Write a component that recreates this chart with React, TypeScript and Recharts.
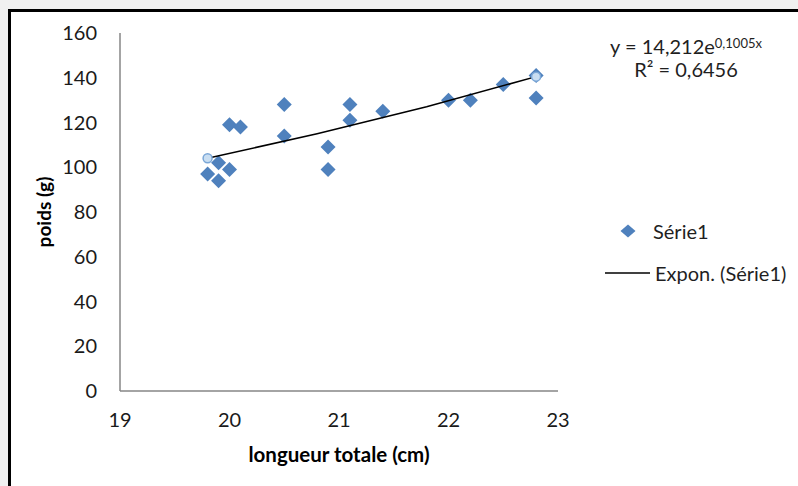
import React from "react";
import { ScatterChart, Scatter, XAxis, YAxis, Legend } from "recharts";

// longueur totale (cm) / poids (g)
const longueur = [19.8, 19.9, 19.9, 20.0, 20.0, 20.1, 20.5, 20.5, 20.9, 20.9, 21.1, 21.1, 21.4, 22.0, 22.2, 22.5, 22.8, 22.8];
const poids = [97, 94, 102, 99, 119, 118, 128, 114, 109, 99, 128, 121, 125, 130, 130, 137, 141, 131];

// points of the exponential trendline as drawn
const trendX = [19.8, 20.8, 21.8, 22.8];
const trendY = [104, 115, 127, 140.5];

const xTicks = [19, 20, 21, 22, 23];
const yTicks = [0, 20, 40, 60, 80, 100, 120, 140, 160];

const FONT = "Lato, 'Open Sans', sans-serif";
const BLUE = "#4f81bd";
const AXIS = "#868686";

const points = longueur.map((x, i) => ({ x, y: poids[i] }));
const trend = trendX.map((x, i) => ({ x, y: trendY[i] }));
const trendEnds = [trend[0], trend[trend.length - 1]];

const Diamond = (props: any) => {
  const { cx, cy } = props;
  const r = 7.5;
  return (
    <polygon
      points={`${cx},${cy - r} ${cx + r},${cy} ${cx},${cy + r} ${cx - r},${cy}`}
      fill={BLUE}
    />
  );
};

const EndMark = (props: any) => (
  <circle cx={props.cx} cy={props.cy} r={4.5} fill="#c9def2" stroke="#7ba7d7" strokeWidth={1.5} />
);

const Nothing = () => <g />;

const LegendBox = () => (
  <div style={{ fontFamily: FONT, fontSize: 20, color: "#1f1f1f" }}>
    <div style={{ display: "flex", alignItems: "center", height: 26 }}>
      <svg width={53} height={26}>
        <polygon points="28,19.5 35.5,13 28,6.5 20.5,13" fill={BLUE} />
      </svg>
      <span>Série1</span>
    </div>
    <div style={{ display: "flex", alignItems: "center", height: 26, marginTop: 16 }}>
      <svg width={55} height={26}>
        <line x1={5} y1={13} x2={50} y2={13} stroke="#000" strokeWidth={1.5} />
      </svg>
      <span>Expon. (Série1)</span>
    </div>
  </div>
);

export default function App() {
  return (
    <div
      style={{
        position: "absolute",
        left: 0,
        top: 0,
        width: 798,
        height: 486,
        background: "#f0f0f0",
        overflow: "hidden",
        fontFamily: FONT,
      }}
    >
      <div
        style={{
          position: "absolute",
          left: 8,
          top: 9,
          width: 800,
          height: 490,
          borderTop: "3px solid #000",
          borderLeft: "3px solid #000",
          background: "#fff",
        }}
      />
      <div
        style={{
          position: "absolute",
          left: 586,
          top: 32,
          width: 200,
          textAlign: "center",
          fontSize: 20,
          lineHeight: "23px",
          color: "#1f1f1f",
        }}
      >
        <div>
          y = 14,212e<sup style={{ fontSize: 13, verticalAlign: "6px" }}>0,1005x</sup>
        </div>
        <div>R² = 0,6456</div>
      </div>
      <div style={{ position: "absolute", left: 0, top: 0 }}>
        <ScatterChart
          width={798}
          height={486}
          margin={{ top: 33, right: 240, bottom: 65, left: 0 }}
        >
          <XAxis
            type="number"
            dataKey="x"
            domain={[19, 23]}
            ticks={xTicks}
            tickSize={0}
            tickMargin={22}
            tickLine={false}
            axisLine={{ stroke: AXIS, strokeWidth: 1.5 }}
            tick={{ fill: "#1a1a1a", fontSize: 20, fontFamily: FONT }}
            height={30}
            label={{
              value: "longueur totale (cm)",
              position: "bottom",
              offset: 26,
              fill: "#000",
              style: { fontSize: 20.5, fontWeight: 700, fontFamily: FONT },
            }}
          />
          <YAxis
            type="number"
            dataKey="y"
            domain={[0, 160]}
            ticks={yTicks}
            tickSize={0}
            tickMargin={23}
            tickLine={false}
            axisLine={{ stroke: AXIS, strokeWidth: 1.5 }}
            tick={{ fill: "#1a1a1a", fontSize: 20, fontFamily: FONT }}
            width={120}
            label={{
              value: "poids (g)",
              angle: -90,
              position: "insideLeft",
              offset: 44,
              fill: "#000",
              style: { textAnchor: "middle", fontSize: 19, fontWeight: 700, fontFamily: FONT },
            }}
          />
          <Legend
            layout="horizontal"
            verticalAlign="middle"
            align="center"
            content={<LegendBox />}
            wrapperStyle={{ left: 600, top: 218, width: 198 }}
          />
          <Scatter name="Série1" data={points} shape={<Diamond />} isAnimationActive={false} />
          <Scatter
            name="Expon. (Série1)"
            data={trend}
            line={{ stroke: "#000", strokeWidth: 1.5 }}
            shape={<Nothing />}
            isAnimationActive={false}
          />
          <Scatter data={trendEnds} shape={<EndMark />} isAnimationActive={false} legendType="none" />
        </ScatterChart>
      </div>
    </div>
  );
}
